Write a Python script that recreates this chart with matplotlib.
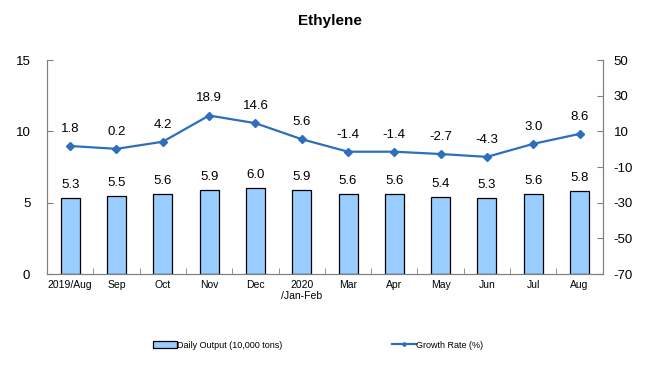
import matplotlib.pyplot as plt
import numpy as np

plt.rcParams['font.family'] = ['Liberation Sans', 'DejaVu Sans']
plt.rcParams['axes.unicode_minus'] = False

categories = ['2019/Aug', 'Sep', 'Oct', 'Nov', 'Dec', '2020\n/Jan-Feb',
              'Mar', 'Apr', 'May', 'Jun', 'Jul', 'Aug']
output = [5.3, 5.5, 5.6, 5.9, 6.0, 5.9, 5.6, 5.6, 5.4, 5.3, 5.6, 5.8]
growth = [1.8, 0.2, 4.2, 18.9, 14.6, 5.6, -1.4, -1.4, -2.7, -4.3, 3.0, 8.6]

narrow = ['Liberation Sans Narrow', 'Liberation Sans']

fig = plt.figure(figsize=(6.53, 3.90), dpi=100)
ax = fig.add_axes([0.072, 0.2974, 0.851, 0.5486])
ax2 = ax.twinx()

x = np.arange(len(categories))
bars = ax.bar(x, output, width=0.41, color='#99CCFF', edgecolor='black',
              linewidth=0.9, label='Daily Output (10,000 tons)', zorder=2)
for xi, v in zip(x, output):
    ax.annotate(f'{v:.1f}', (xi, v), xytext=(0, 5), textcoords='offset points',
                ha='center', va='bottom', fontsize=9.5)

line, = ax2.plot(x, growth, color='#2F6EBA', linewidth=1.6, marker='D',
                 markersize=4, label='Growth Rate (%)', zorder=3)
for xi, v in zip(x, growth):
    ax2.annotate(f'{v:.1f}', (xi, v), xytext=(0, 8), textcoords='offset points',
                 ha='center', va='bottom', fontsize=9.5)

ax.set_xlim(-0.5, len(categories) - 0.5)
ax.set_ylim(0, 15)
ax.set_yticks([0, 5, 10, 15])
ax2.set_ylim(-70, 50)
ax2.set_yticks(np.arange(-70, 51, 20))

ax.set_xticks(x)
ax.set_xticklabels(categories, fontsize=7.5, family=narrow)
ax.set_xticks(np.arange(-0.5, len(categories), 1), minor=True)
ax.tick_params(axis='x', which='major', length=0, pad=4)
ax.tick_params(axis='x', which='minor', direction='in', length=4, color='#808080')
ax.tick_params(axis='y', direction='in', length=4, color='#808080', labelsize=9.5, pad=12)
ax2.tick_params(axis='y', direction='in', length=4, color='#808080', labelsize=9.5, pad=8)

for a in (ax, ax2):
    a.spines['top'].set_visible(False)
    for s in ('left', 'right', 'bottom'):
        a.spines[s].set_color('#808080')

fig.text(0.505, 0.945, 'Ethylene', ha='center', va='center', fontsize=11, fontweight='bold')

fig.legend([bars], ['Daily Output (10,000 tons)'], loc='center left',
           bbox_to_anchor=(0.222, 0.115), frameon=False, handlelength=2.6,
           handletextpad=0.1, prop={'family': narrow, 'size': 6.5})
fig.legend([line], ['Growth Rate (%)'], loc='center left',
           bbox_to_anchor=(0.588, 0.115), frameon=False, handlelength=2.6,
           handletextpad=0.1, markerscale=0.5, prop={'family': narrow, 'size': 6.5})

fig.savefig('out.png', dpi=100)
